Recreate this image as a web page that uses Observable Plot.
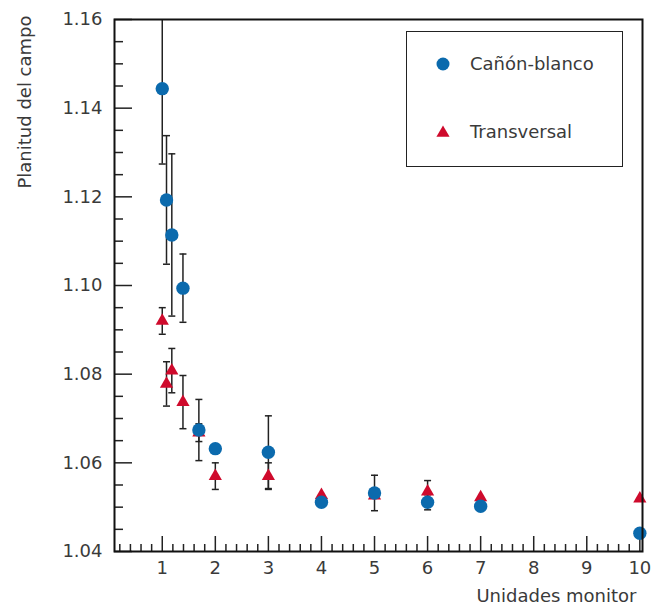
<!DOCTYPE html>
<html><head><meta charset="utf-8">
<script src="https://cdn.jsdelivr.net/npm/d3@7"></script>
<script src="https://cdn.jsdelivr.net/npm/@observablehq/plot@0.6"></script>
<style>
body{margin:0;background:#fff}
#wrap{position:relative;width:659px;height:609px}
.legend{position:absolute;left:406px;top:31px;width:215px;height:134px;border:1px solid #222;font:18px "DejaVu Sans",sans-serif;color:#3a3a3a}
.legend .row{position:absolute;left:0;display:flex;align-items:center}
.legend svg{margin-left:29px;margin-right:20px}
</style>
</head><body><div id="wrap"></div>
<script>
// Cañón-blanco series
const monitorUnitsCB = [1, 1.08, 1.18, 1.39, 1.69, 2, 3, 4, 5, 6, 7, 10];
const flatnessCB     = [1.1444, 1.1193, 1.1114, 1.0994, 1.0674, 1.0632, 1.0624, 1.0511, 1.0532, 1.0511, 1.0502, 1.0441];
const errorCB        = [0.017, 0.0145, 0.0183, 0.0077, 0.0069, 0, 0.0082, 0, 0.004, 0.0017, 0, 0];
// Transversal series
const monitorUnitsTr = [1, 1.08, 1.18, 1.39, 1.69, 2, 3, 4, 5, 6, 7, 10];
const flatnessTr     = [1.092, 1.0778, 1.0808, 1.0737, 1.0668, 1.057, 1.057, 1.0527, 1.0526, 1.0535, 1.0522, 1.0519];
const errorTr        = [0.003, 0.005, 0.005, 0.006, 0.002, 0.003, 0.003, 0, 0, 0.0025, 0, 0];
// ticks
const xMajorTicks = [1, 2, 3, 4, 5, 6, 7, 8, 9, 10];
const xMinorTicks = [0.2,0.4,0.6,0.8,1.2,1.4,1.6,1.8,2.2,2.4,2.6,2.8,3.2,3.4,3.6,3.8,4.2,4.4,4.6,4.8,5.2,5.4,5.6,5.8,6.2,6.4,6.6,6.8,7.2,7.4,7.6,7.8,8.2,8.4,8.6,8.8,9.2,9.4,9.6,9.8];
const yMajorTicks = [1.04, 1.06, 1.08, 1.10, 1.12, 1.14, 1.16];
const yMinorTicks = [1.045,1.05,1.055,1.065,1.07,1.075,1.085,1.09,1.095,1.105,1.11,1.115,1.125,1.13,1.135,1.145,1.15,1.155];
const seriesNames = ["Cañón-blanco", "Transversal"];
const xLabel = "Unidades monitor";
const yLabel = "Planitud del campo";

const BLUE = "#0b6aad", RED = "#cf0a2c", INK = "#222", TXT = "#3a3a3a";
const FONT = "DejaVu Sans, sans-serif";

const cb = monitorUnitsCB.map((x, i) => ({x, y: flatnessCB[i], e: errorCB[i]}));
const tr = monitorUnitsTr.map((x, i) => ({x, y: flatnessTr[i], e: errorTr[i]}));
const bars = [...cb, ...tr].filter(d => d.e > 0);
const caps = bars.flatMap(d => [{x: d.x, y: d.y - d.e}, {x: d.x, y: d.y + d.e}]);
const capSymbol = {draw(ctx) { ctx.moveTo(-3.5, 0); ctx.lineTo(3.5, 0); }};
const fmt = d3.format(".2f");

const chart = Plot.plot({
  width: 659, height: 609,
  marginLeft: 114, marginRight: 17, marginTop: 19, marginBottom: 58,
  style: {fontFamily: FONT, fontSize: "18px", color: TXT, background: "#fff"},
  x: {domain: [0.1, 10.05], label: null},
  y: {domain: [1.04, 1.16], label: null},
  marks: [
    Plot.axisX({ticks: xMinorTicks, tickSize: -7, tickFormat: () => "", stroke: INK, strokeWidth: 1.5, label: null}),
    Plot.axisX({ticks: xMajorTicks, tickSize: -15, tickFormat: () => "", stroke: INK, strokeWidth: 1.5, label: null}),
    Plot.axisX({ticks: xMajorTicks, tickSize: 0, tickPadding: 10, tickFormat: d => String(d), fill: TXT, label: null}),
    Plot.axisY({ticks: yMinorTicks, tickSize: -9, tickFormat: () => "", stroke: INK, strokeWidth: 1.5, label: null}),
    Plot.axisY({ticks: yMajorTicks, tickSize: -18, tickFormat: () => "", stroke: INK, strokeWidth: 1.5, label: null}),
    Plot.axisY({ticks: yMajorTicks, tickSize: 0, tickPadding: 12, tickFormat: fmt, fill: TXT, label: null}),
    Plot.ruleX(bars, {x: "x", y1: d => d.y - d.e, y2: d => d.y + d.e, stroke: INK, strokeWidth: 1.5, clip: true}),
    Plot.dot(caps, {x: "x", y: "y", symbol: capSymbol, r: 4, fill: "none", stroke: INK, strokeWidth: 1.5, clip: true}),
    Plot.dot(tr, {x: "x", y: "y", symbol: "triangle", r: 4.9, fill: RED, stroke: "none"}),
    Plot.dot(cb, {x: "x", y: "y", symbol: "circle", r: 6.7, fill: BLUE, stroke: "none"}),
    Plot.frame({stroke: "#111", strokeWidth: 2}),
    Plot.text([yLabel], {text: d => d, frameAnchor: "top-left", rotate: -90, textAnchor: "end", dx: -96, dy: -4, fontSize: 18, fill: TXT}),
    Plot.text([xLabel], {text: d => d, frameAnchor: "bottom-right", textAnchor: "end", dx: -6, dy: 50, fontSize: 18, fill: TXT})
  ]
});
const wrap = document.getElementById("wrap");
wrap.appendChild(chart);

// Legend overlay
const legend = document.createElement("div");
legend.className = "legend";
const symCircle = `<svg width="14" height="14"><circle cx="7" cy="7" r="6.5" fill="${BLUE}"/></svg>`;
const symTri = `<svg width="14" height="14">${(() => { const p = d3.symbol(d3.symbolTriangle, 4.9*4.9*Math.PI)(); return `<path transform="translate(7,8)" d="${p}" fill="${RED}"/>`; })()}</svg>`;
legend.innerHTML =
  `<div class="row" style="top:21px">${symCircle}<span>${seriesNames[0]}</span></div>` +
  `<div class="row" style="top:89px">${symTri}<span>${seriesNames[1]}</span></div>`;
wrap.appendChild(legend);
</script>
</body></html>
